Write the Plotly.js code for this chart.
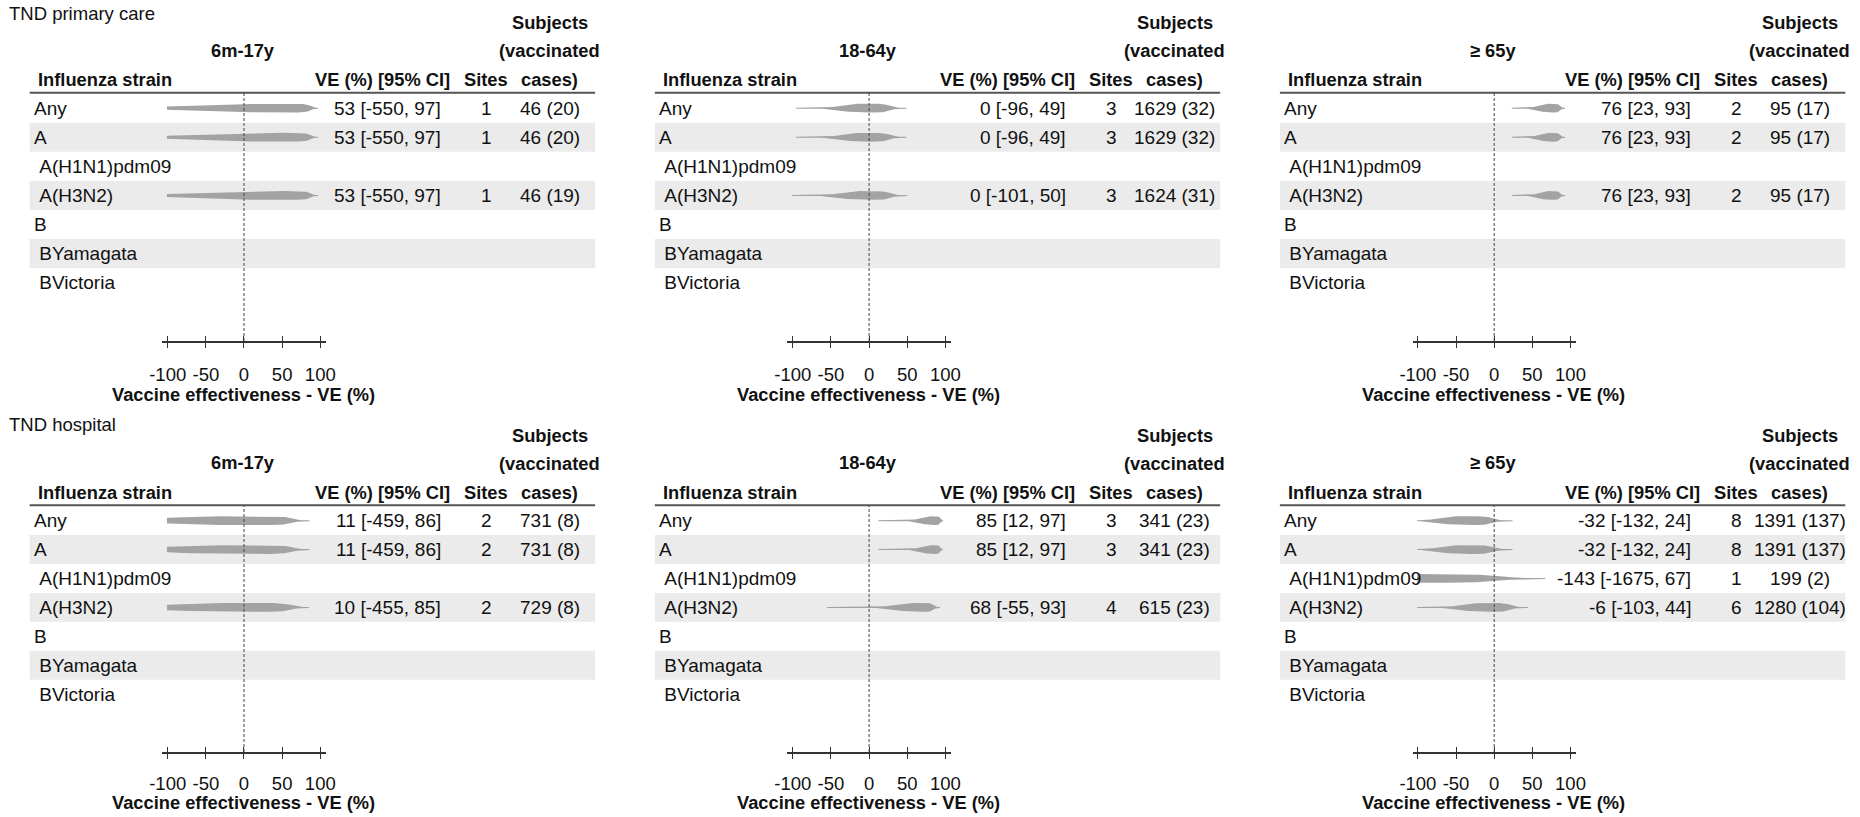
<!DOCTYPE html>
<html>
<head>
<meta charset="utf-8">
<script src="https://cdn.plot.ly/plotly-3.0.1.min.js"></script>
<style>
html,body{margin:0;padding:0;background:#ffffff;}
#chart{width:1860px;height:817px;}
</style>
</head>
<body>
<div id="chart"></div>
<script>
// ---------------- DATA ----------------
const strains = ["Any", "A", "\u00a0A(H1N1)pdm09", "\u00a0A(H3N2)", "B", "\u00a0BYamagata", "\u00a0BVictoria"];
const settings = ["TND primary care", "TND hospital"];
const ageGroups = ["6m-17y", "18-64y", "\u2265 65y"];
const xTicks = [-100, -50, 0, 50, 100];
const xTickText = ["-100", "-50", "0", "50", "100"];
const xTitle = "Vaccine effectiveness - VE (%)";
const headStrain = "Influenza strain";
const headVE = "VE (%) [95% CI]";
const headSites = "Sites";
const headSubjects = ["Subjects", "(vaccinated", "cases)"];

// panel order: primary care (6m-17y, 18-64y, >=65y), hospital (6m-17y, 18-64y, >=65y)
const veEst = [
  [53, 53, null, 53, null, null, null],
  [0, 0, null, 0, null, null, null],
  [76, 76, null, 76, null, null, null],
  [11, 11, null, 10, null, null, null],
  [85, 85, null, 68, null, null, null],
  [-32, -32, -143, -6, null, null, null]
];
const veLow = [
  [-550, -550, null, -550, null, null, null],
  [-96, -96, null, -101, null, null, null],
  [23, 23, null, 23, null, null, null],
  [-459, -459, null, -455, null, null, null],
  [12, 12, null, -55, null, null, null],
  [-132, -132, -1675, -103, null, null, null]
];
const veHigh = [
  [97, 97, null, 97, null, null, null],
  [49, 49, null, 50, null, null, null],
  [93, 93, null, 93, null, null, null],
  [86, 86, null, 85, null, null, null],
  [97, 97, null, 93, null, null, null],
  [24, 24, 67, 44, null, null, null]
];
const sites = [
  [1, 1, null, 1, null, null, null],
  [3, 3, null, 3, null, null, null],
  [2, 2, null, 2, null, null, null],
  [2, 2, null, 2, null, null, null],
  [3, 3, null, 4, null, null, null],
  [8, 8, 1, 6, null, null, null]
];
const subjects = [
  [46, 46, null, 46, null, null, null],
  [1629, 1629, null, 1624, null, null, null],
  [95, 95, null, 95, null, null, null],
  [731, 731, null, 729, null, null, null],
  [341, 341, null, 615, null, null, null],
  [1391, 1391, 199, 1280, null, null, null]
];
const vaccCases = [
  [20, 20, null, 19, null, null, null],
  [32, 32, null, 31, null, null, null],
  [17, 17, null, 17, null, null, null],
  [8, 8, null, 8, null, null, null],
  [23, 23, null, 23, null, null, null],
  [137, 137, 2, 104, null, null, null]
];

// ---------------- GEOMETRY / STYLE ----------------
const W = 1860, H = 817;
const FONT = "Liberation Sans, Arial, Helvetica, sans-serif";
const TXT = "#111111";
const PANEL_DX = 625.1;
const PANEL_DY = [0, 412.6];
const ZERO_X = 244;
const PX_PER_UNIT = 0.763;
const X_RANGE = [-107, 107];
const CLIP = [-101, 101];
const HEAD_LINE_Y = 92.7;
const AXIS_Y = [341, 752];
const Y_RANGE = [8, -0.53];
const HALF_MAX_PX = 4.4, HALF_MIN_PX = 0.5;
const SHAPE_A = 1.05, SHAPE_K = 4.0;
const ROW_FS = 19, HEAD_FS = 18.3, TICK_FS = 18.5;

const px2x = p => p / W;
const py2y = p => 1 - p / H;

function fmtVE(e, l, h) { return e + " [" + l + ", " + h + "]"; }

function spindle(est, lo, hi, row, unitPx) {
  const mu = Math.log(1 - est / 100);
  const sigma = (Math.log(1 - lo / 100) - Math.log(1 - hi / 100)) / (2 * 1.959964);
  const a = Math.max(lo, CLIP[0]), b = Math.min(hi, CLIP[1]);
  const N = 200;
  const xs = [], top = [], bot = [];
  for (let j = 0; j <= N; j++) {
    const v = a + (b - a) * j / N;
    const z = (Math.log(1 - v / 100) - mu) / sigma;
    const f = Math.exp(-Math.pow(Math.abs(z) / SHAPE_A, SHAPE_K));
    const half = Math.max(HALF_MAX_PX * f, HALF_MIN_PX) / unitPx;
    xs.push(v); top.push(row - half); bot.push(row + half);
  }
  return { x: xs.concat(xs.slice().reverse()), y: top.concat(bot.slice().reverse()) };
}

const traces = [];
const layout = {
  width: W, height: H,
  margin: { l: 0, r: 0, t: 0, b: 0 },
  paper_bgcolor: "#ffffff", plot_bgcolor: "rgba(0,0,0,0)",
  showlegend: false,
  font: { family: FONT, color: TXT, size: ROW_FS },
  annotations: [], shapes: []
};

function ann(text, xpx, ypx, xanchor, size, bold, yref, yval) {
  layout.annotations.push({
    text: bold ? "<b>" + text + "</b>" : text,
    xref: "paper", x: px2x(xpx), xanchor: xanchor,
    yref: yref || "paper", y: yref ? yval : py2y(ypx), yanchor: "middle",
    showarrow: false, borderpad: 0,
    font: { family: FONT, size: size, color: TXT }
  });
}

for (let k = 0; k < 6; k++) {
  const col = k % 3, r = Math.floor(k / 3);
  const n = k + 1, no = k + 7;
  const dx = col * PANEL_DX, dy = PANEL_DY[r];
  const topPx = HEAD_LINE_Y + dy, botPx = AXIS_Y[r];
  const unitPx = (botPx - topPx) / (Y_RANGE[0] - Y_RANGE[1]);
  const xd = [px2x(ZERO_X + dx + X_RANGE[0] * PX_PER_UNIT), px2x(ZERO_X + dx + X_RANGE[1] * PX_PER_UNIT)];
  const yd = [py2y(botPx), py2y(topPx)];
  const xk = "xaxis" + (n === 1 ? "" : n), yk = "yaxis" + (n === 1 ? "" : n);
  const xid = "x" + (n === 1 ? "" : n), yid = "y" + (n === 1 ? "" : n);

  layout[xk] = {
    domain: xd, range: X_RANGE, anchor: yid, fixedrange: true,
    tickmode: "array", tickvals: xTicks, ticktext: xTickText,
    ticks: "outside", ticklen: 5, tickwidth: 1, tickcolor: "#333333",
    showline: true, linecolor: "#333333", linewidth: 1.5,
    showgrid: false, zeroline: false,
    tickfont: { family: FONT, size: TICK_FS, color: TXT },
    ticklabelstandoff: r === 0 ? 11 : 9
  };
  layout["xaxis" + no] = {
    domain: xd, range: X_RANGE, anchor: yid, overlaying: xid, fixedrange: true,
    tickmode: "array", tickvals: xTicks,
    ticks: "inside", ticklen: 5, tickwidth: 1, tickcolor: "#333333",
    showticklabels: false, showline: false, showgrid: false, zeroline: false
  };
  layout[yk] = {
    domain: yd, range: Y_RANGE, anchor: xid, fixedrange: true, visible: false,
    showgrid: false, zeroline: false
  };

  // invisible anchor trace for overlay tick axis
  traces.push({ type: "scatter", x: [0], y: [0], xaxis: "x" + no, yaxis: yid, mode: "markers",
    marker: { opacity: 0, size: 1 }, hoverinfo: "skip", showlegend: false });

  // banded rows
  for (let i = 0; i < strains.length; i++) {
    if (i % 2 === 1) {
      layout.shapes.push({ type: "rect", xref: "paper", x0: px2x(29.7 + dx), x1: px2x(595.1 + dx),
        yref: yid, y0: i - 0.5, y1: i + 0.5, fillcolor: "#ebebeb", line: { width: 0 }, layer: "below" });
    }
  }
  // header line
  layout.shapes.push({ type: "line", xref: "paper", x0: px2x(29.7 + dx), x1: px2x(595.1 + dx),
    yref: "paper", y0: py2y(topPx), y1: py2y(topPx), line: { color: "#555555", width: 2 } });
  // zero reference line
  layout.shapes.push({ type: "line", xref: xid, x0: 0, x1: 0, yref: yid + " domain", y0: 0, y1: 1,
    line: { color: "#444444", width: 1, dash: "3px,2px" }, layer: "above" });

  // titles
  if (col === 0) ann(settings[r], 8, (r === 0 ? 14 : 424), "left", 18.5, false);
  ann(ageGroups[col], 243 + dx, 50 + dy, "center", HEAD_FS, true);
  ann(headSubjects[0], 549.6 + dx, 23 + dy, "center", HEAD_FS, true);
  ann(headSubjects[1], 549.6 + dx, 51 + dy, "center", HEAD_FS, true);
  ann(headSubjects[2], 549.6 + dx, 79.5 + dy, "center", HEAD_FS, true);
  ann(headStrain, 36.8 + dx, 80 + dy, "left", HEAD_FS, true);
  ann(headVE, 450.8 + dx, 80 + dy, "right", HEAD_FS, true);
  ann(headSites, 486 + dx, 80 + dy, "center", HEAD_FS, true);
  ann(xTitle, 243.4 + dx, r === 0 ? 394 : 802, "center", HEAD_FS, true);

  // rows
  for (let i = 0; i < strains.length; i++) {
    ann(strains[i], 32.8 + dx, null, "left", ROW_FS, false, yid, i);
    const e = veEst[k][i];
    if (e === null) continue;
    const lo = veLow[k][i], hi = veHigh[k][i];
    const s = spindle(e, lo, hi, i, unitPx);
    traces.push({ type: "scatter", x: s.x, y: s.y, xaxis: xid, yaxis: yid, mode: "lines",
      fill: "toself", fillcolor: "#a3a3a3", line: { width: 0, color: "#a3a3a3" },
      hoverinfo: "skip", showlegend: false, cliponaxis: true });
    ann(fmtVE(e, lo, hi), 441.7 + dx, null, "right", ROW_FS, false, yid, i);
    ann(String(sites[k][i]), 486 + dx, null, "center", ROW_FS, false, yid, i);
    ann(subjects[k][i] + " (" + vaccCases[k][i] + ")", 549.6 + dx, null, "center", ROW_FS, false, yid, i);
  }
}

Plotly.newPlot("chart", traces, layout, { displayModeBar: false, staticPlot: true });
</script>
</body>
</html>
